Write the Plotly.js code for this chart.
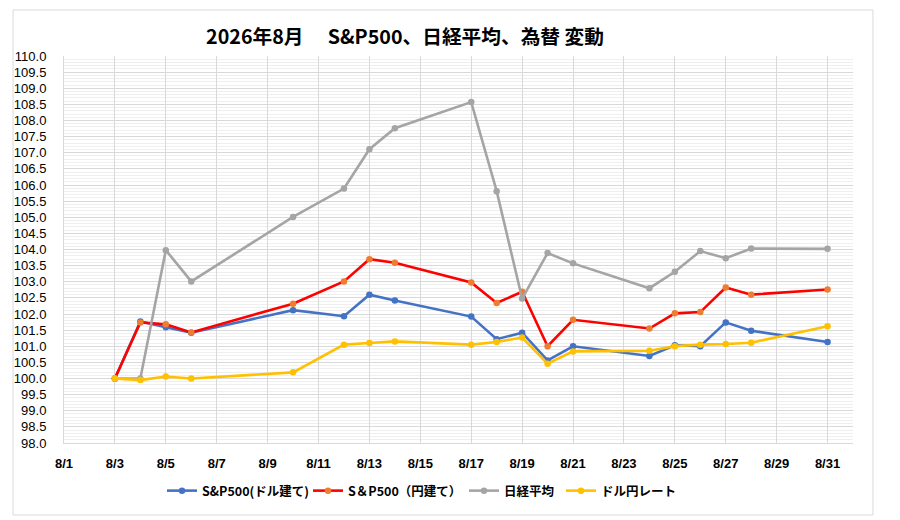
<!DOCTYPE html>
<html>
<head>
<meta charset="utf-8">
<script src="https://cdn.plot.ly/plotly-3.0.1.min.js"></script>
<style>body{margin:0;background:#fff}#chart{width:900px;height:520px}</style>
</head>
<body>
<div id="chart"></div>
<script>
const dates = ["2026-08-03","2026-08-04","2026-08-05","2026-08-06","2026-08-10","2026-08-12","2026-08-13","2026-08-14","2026-08-17","2026-08-18","2026-08-19","2026-08-20","2026-08-21","2026-08-24","2026-08-25","2026-08-26","2026-08-27","2026-08-28","2026-08-31"];
const spUsd = [100.0,101.77,101.59,101.42,102.12,101.93,102.60,102.42,101.92,101.22,101.42,100.56,101.00,100.70,101.03,101.00,101.74,101.48,101.13];
const spJpy = [100.0,101.74,101.68,101.43,102.32,103.01,103.70,103.59,102.98,102.34,102.69,101.00,101.82,101.55,102.02,102.06,102.82,102.60,102.76];
const nikkei = [100.0,100.0,103.98,103.01,105.01,105.89,107.11,107.76,108.57,105.81,102.48,103.89,103.57,102.80,103.31,103.95,103.73,104.03,104.02];
const usdJpy = [100.0,99.95,100.06,100.00,100.19,101.05,101.10,101.15,101.05,101.13,101.27,100.46,100.84,100.86,101.00,101.05,101.07,101.11,101.62];
const seriesNames = ["S&P500(ドル建て)","S＆P500（円建て）","日経平均","ドル円レート"];
const titleText = "2026年8月　 S&P500、日経平均、為替 変動";

const jp = '"Noto Sans CJK JP", "Liberation Sans", sans-serif';
function tr(y, name, lineColor, markerColor, lg){
  return {x: dates, y: y, name: name, type: 'scatter', mode: 'lines+markers', legend: lg,
    line: {color: lineColor, width: 2.6}, marker: {color: markerColor, size: 6.5}};
}
const data = [
  tr(spUsd, seriesNames[0], '#4472C4', '#4472C4', 'legend'),
  tr(spJpy, seriesNames[1], '#FF0000', '#ED7D31', 'legend2'),
  tr(nikkei, seriesNames[2], '#A5A5A5', '#A5A5A5', 'legend3'),
  tr(usdJpy, seriesNames[3], '#FFC000', '#FFC000', 'legend4')
];
// plot area: x 64..853, y 56..443
function px2x(p){ return (p - 64) / 789; }
function lg(px){
  return {orientation: 'h', x: px2x(px), xanchor: 'left', y: (443 - 476) / 387, yanchor: 'top',
    font: {family: jp, size: 12.5, color: '#000', weight: 'bold'}, itemwidth: 30, bgcolor: 'rgba(0,0,0,0)'};
}
const layout = {
  width: 900, height: 520,
  margin: {l: 64, r: 47, t: 56, b: 77, autoexpand: false},
  paper_bgcolor: '#fff', plot_bgcolor: '#fff',
  title: {text: '<b>' + titleText + '</b>', x: px2x(405), xref: 'paper', xanchor: 'center', y: 1 - 37/520, yref: 'container', yanchor: 'middle',
    font: {family: jp, size: 19.7, color: '#000'}},
  xaxis: {type: 'date', range: ['2026-08-01', '2026-09-01'], tick0: '2026-08-01', dtick: 2*86400000,
    tickformat: '%-m/%-d', showgrid: true, gridcolor: '#D9D9D9', gridwidth: 1,
    showline: true, linecolor: '#D9D9D9', zeroline: false, ticks: '', ticklabelstandoff: 8,
    tickfont: {family: '"Liberation Sans", sans-serif', size: 13, color: '#000', weight: 'bold'}},
  yaxis: {range: [98, 110], dtick: 0.5, tick0: 98, tickformat: '.1f', showgrid: true, gridcolor: '#D9D9D9',
    gridwidth: 1, zeroline: false, showline: true, linecolor: '#D9D9D9', ticks: '', ticklabelstandoff: 14,
    minor: {dtick: 0.1, showgrid: true, gridcolor: '#EFEFEF', gridwidth: 1},
    tickfont: {family: '"Liberation Sans", sans-serif', size: 13, color: '#000'}},
  legend: lg(162),
  legend2: lg(308),
  legend3: lg(464),
  legend4: lg(561),
  shapes: [{type: 'rect', xref: 'paper', yref: 'paper', x0: -0.0646, x1: 1.0253, y0: -0.186, y1: 1.119,
    line: {color: '#D9D9D9', width: 1}, fillcolor: 'rgba(0,0,0,0)'}],
  showlegend: true
};
Plotly.newPlot('chart', data, layout, {displayModeBar: false, staticPlot: true});
</script>
</body>
</html>
